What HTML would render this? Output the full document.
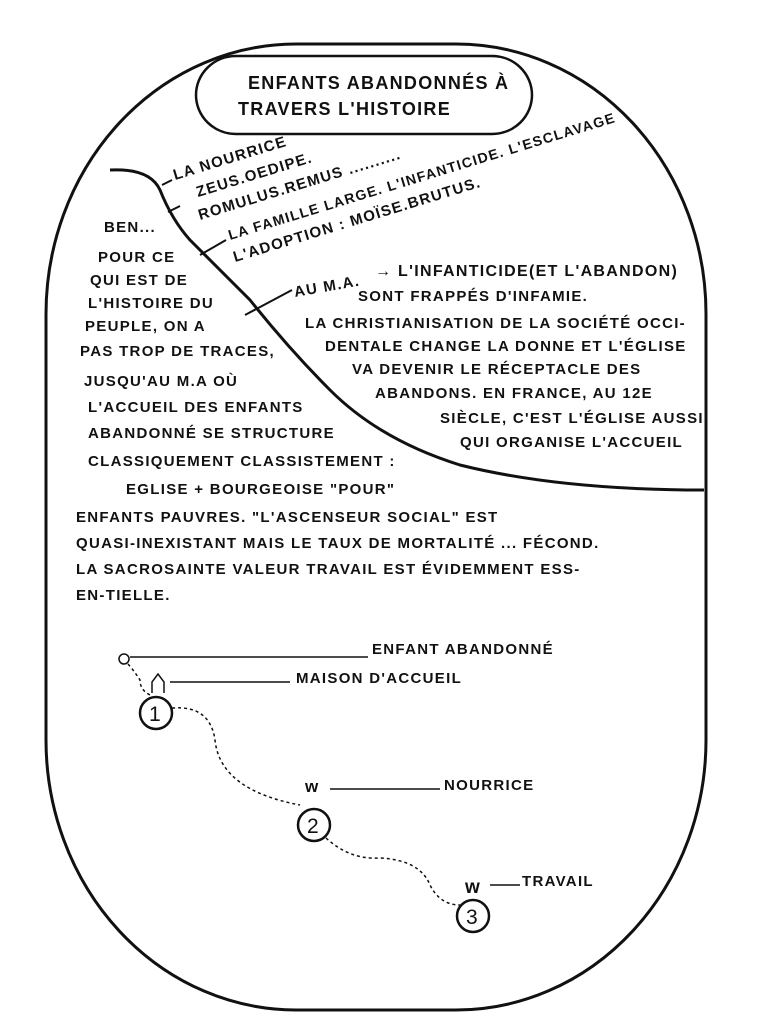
<!DOCTYPE html>
<html><head><meta charset="utf-8"><style>
html,body{margin:0;padding:0;background:#fff;}
svg{display:block;}
text{font-family:"Liberation Sans",sans-serif;fill:#111;font-size:15px;font-weight:bold;letter-spacing:1.3px;}
</style></head><body>
<svg width="761" height="1024" viewBox="0 0 761 1024">
<rect x="46" y="44" width="660" height="966" rx="250" ry="270" fill="none" stroke="#111" stroke-width="3"/>
<rect x="196" y="56" width="336" height="78" rx="40" fill="#fff" stroke="#111" stroke-width="2.5"/>
<text x="248" y="89" style="font-size:18px">ENFANTS ABANDONNÉS À</text>
<text x="238" y="115" style="font-size:18px">TRAVERS L'HISTOIRE</text>
<path d="M110 170 Q150 168 160 190 Q172 220 190 240 L250 300 Q290 350 330 390 Q380 440 460 465 Q560 490 704 490" fill="none" stroke="#111" stroke-width="3"/>
<line x1="162" y1="185" x2="172" y2="180" stroke="#111" stroke-width="2"/>
<line x1="168" y1="212" x2="180" y2="206" stroke="#111" stroke-width="2"/>
<line x1="200" y1="255" x2="226" y2="240" stroke="#111" stroke-width="2"/>
<line x1="245" y1="315" x2="292" y2="290" stroke="#111" stroke-width="2"/>
<text x="175" y="180" transform="rotate(-17 175 180)">LA NOURRICE</text>
<text x="198" y="197" transform="rotate(-17 198 197)">ZEUS.OEDIPE.</text>
<text x="200" y="220" transform="rotate(-17 200 220)">ROMULUS.REMUS ..........</text>
<text x="230" y="240" transform="rotate(-17 230 240)" style="font-size:14px">LA FAMILLE LARGE. L'INFANTICIDE. L'ESCLAVAGE</text>
<text x="235" y="262" transform="rotate(-17 235 262)">L'ADOPTION : MOÏSE.BRUTUS.</text>
<text x="295" y="297" transform="rotate(-10 295 297)">AU M.A.</text>
<text x="375" y="276" style="font-size:16px">→ L'INFANTICIDE(ET L'ABANDON)</text>
<text x="358" y="301">SONT FRAPPÉS D'INFAMIE.</text>
<text x="305" y="328">LA CHRISTIANISATION DE LA SOCIÉTÉ OCCI-</text>
<text x="325" y="351">DENTALE CHANGE LA DONNE ET L'ÉGLISE</text>
<text x="352" y="374">VA DEVENIR LE RÉCEPTACLE DES</text>
<text x="375" y="398">ABANDONS. EN FRANCE, AU 12E</text>
<text x="440" y="423">SIÈCLE, C'EST L'ÉGLISE AUSSI</text>
<text x="460" y="447">QUI ORGANISE L'ACCUEIL</text>
<text x="104" y="232">BEN...</text>
<text x="98" y="262">POUR CE</text>
<text x="90" y="285">QUI EST DE</text>
<text x="88" y="308">L'HISTOIRE DU</text>
<text x="85" y="331">PEUPLE, ON A</text>
<text x="80" y="356">PAS TROP DE TRACES,</text>
<text x="84" y="386">JUSQU'AU M.A OÙ</text>
<text x="88" y="412">L'ACCUEIL DES ENFANTS</text>
<text x="88" y="438">ABANDONNÉ SE STRUCTURE</text>
<text x="88" y="466">CLASSIQUEMENT CLASSISTEMENT :</text>
<text x="126" y="494">EGLISE + BOURGEOISE "POUR"</text>
<text x="76" y="522">ENFANTS PAUVRES. "L'ASCENSEUR SOCIAL" EST</text>
<text x="76" y="548">QUASI-INEXISTANT MAIS LE TAUX DE MORTALITÉ ... FÉCOND.</text>
<text x="76" y="574">LA SACROSAINTE VALEUR TRAVAIL EST ÉVIDEMMENT ESS-</text>
<text x="76" y="600">EN-TIELLE.</text>
<circle cx="124" cy="659" r="5" fill="none" stroke="#111" stroke-width="1.5"/>
<line x1="130" y1="657" x2="368" y2="657" stroke="#111" stroke-width="1.5"/>
<text x="372" y="654">ENFANT ABANDONNÉ</text>
<path d="M128 664 Q135 672 140 680 Q140 690 150 695" fill="none" stroke="#111" stroke-width="1.5" stroke-dasharray="3 3"/>
<path d="M152 693 L152 682 L158 674 L164 682 L164 693" fill="none" stroke="#111" stroke-width="1.5"/>
<line x1="170" y1="682" x2="290" y2="682" stroke="#111" stroke-width="1.5"/>
<text x="296" y="683">MAISON D'ACCUEIL</text>
<circle cx="156" cy="713" r="16" fill="#fff" stroke="#111" stroke-width="2.5"/>
<text x="149" y="721" style="font-size:21px;font-weight:normal;letter-spacing:0">1</text>
<path d="M172 708 Q210 705 215 740 Q220 790 300 805" fill="none" stroke="#111" stroke-width="1.5" stroke-dasharray="3 3"/>
<text x="305" y="792" style="font-size:17px">w</text>
<line x1="330" y1="789" x2="440" y2="789" stroke="#111" stroke-width="1.5"/>
<text x="444" y="790">NOURRICE</text>
<circle cx="314" cy="825" r="16" fill="#fff" stroke="#111" stroke-width="2.5"/>
<text x="307" y="833" style="font-size:21px;font-weight:normal;letter-spacing:0">2</text>
<path d="M326 838 Q350 860 380 858 Q420 860 430 885 Q440 905 460 905" fill="none" stroke="#111" stroke-width="1.5" stroke-dasharray="3 3"/>
<text x="465" y="893" style="font-size:19px">w</text>
<line x1="490" y1="885" x2="520" y2="885" stroke="#111" stroke-width="1.5"/>
<text x="522" y="886">TRAVAIL</text>
<circle cx="473" cy="916" r="16" fill="#fff" stroke="#111" stroke-width="2.5"/>
<text x="466" y="924" style="font-size:21px;font-weight:normal;letter-spacing:0">3</text>
</svg>
</body></html>
